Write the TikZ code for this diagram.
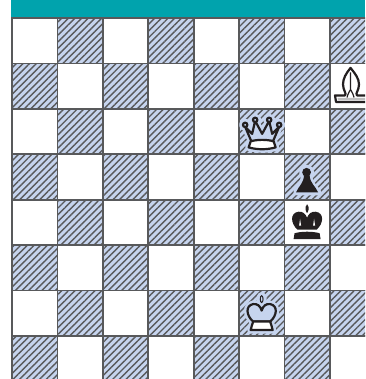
\documentclass[tikz,border=0pt]{standalone}
\usepackage{xcolor}
\usetikzlibrary{patterns.meta}
\definecolor{bandteal}{HTML}{00A3AD}
\definecolor{gridgray}{HTML}{58595B}
\definecolor{hatchblue}{HTML}{C6D4EE}
\definecolor{inkblack}{HTML}{231F20}
\def\queenpath{(12,32) -- (6,18) -- (13,25) -- (16,12) -- (23,25) -- (30,12) -- (33,25) -- (40,18) -- (34,32) -- cycle}
\def\queenbase{(11.5,32.5) .. controls (18,30.5) and (28,30.5) .. (34.5,32.5) -- (36.5,38.5) .. controls (28,41) and (18,41) .. (9.5,38.5) -- cycle}
\def\kingpath{(14,31) .. controls (7,25) and (6,15) .. (14,13.5) .. controls (18,13) and (21,15) .. (22.5,20) .. controls (24,15) and (27,13) .. (31,13.5) .. controls (39,15) and (38,25) .. (31,31) -- cycle}
\def\kingbase{(14,31) .. controls (13,34) and (12,37) .. (11.5,39.5) -- (33.5,39.5) .. controls (33,37) and (32,34) .. (31,31)}
\tikzset{
  lightsq/.style = {rectangle, draw=gridgray, line width=1.6pt, fill=white,
                    minimum size=45.4pt, inner sep=0pt, outer sep=0pt},
  darksq/.style  = {lightsq, fill=hatchblue,
                    postaction={pattern={Lines[angle=45,distance=4.7pt,line width=1.4pt]},
                                pattern color=gridgray}},
  halo/.style    = {draw=hatchblue, fill=hatchblue, line width=7pt, line join=round},
  outl/.style    = {draw=inkblack, line width=2.2pt, line join=round},
  inked/.style   = {fill=inkblack, draw=none},
  whitequeen/.pic = {
    \path[halo] \queenpath; \path[halo] \queenbase;
    \path[halo] (6,16) circle (2.5) (16,11) circle (2.5) (30,11) circle (2.5) (40,16) circle (2.5);
    \path[outl, fill=hatchblue] \queenpath;
    \path[outl, fill=white] \queenbase;
    \path[outl, fill=hatchblue] (6,16) circle (2.2) (16,11) circle (2.2) (30,11) circle (2.2) (40,16) circle (2.2);
  },
  whiteking/.pic = {
    \path[halo] \kingpath; \path[halo] \kingbase -- cycle;
    \path[halo] (22.5,8) ellipse (1.5 and 3);
    \path[outl, fill=hatchblue] \kingpath;
    \path[outl, fill=white] \kingbase -- cycle;
    \path[draw=inkblack, line width=1pt, fill=hatchblue] (22.5,8.5) ellipse (1.4 and 3.4);
  },
  blackking/.pic = {
    \path[inked] (13,30) .. controls (6,24) and (5,13) .. (14,12) .. controls (18,11.5) and (21,14) .. (22.5,18) .. controls (24,14) and (27,11.5) .. (31,12) .. controls (40,13) and (39,24) .. (32,30) -- cycle;
    \path[inked] (22.5,4.5) .. controls (24,6.5) and (24.5,8) .. (24,10) -- (23,13) -- (22,13) -- (21,10) .. controls (20.5,8) and (21,6.5) .. (22.5,4.5) -- cycle;
    \path[inked] (10,33.5) .. controls (17,31.5) and (28,31.5) .. (35,33.5) -- (36,39.5) -- (9,39.5) -- cycle;
    \path[fill=white] (15.5,19) -- (16.5,26) -- (14.5,26) -- cycle (29.5,19) -- (30.5,26) -- (28.5,26) -- cycle;
  },
  blackpawn/.pic = {
    \path[halo] (22,18) circle (4);
    \path[halo] (20,22) .. controls (19,29) and (15,33) .. (12,37.5) -- (33,37.5) .. controls (29,33) and (25,29) .. (24,22) -- cycle;
    \path[inked] (22,18) circle (4.4);
    \path[inked] (19.5,21) .. controls (19,29) and (14,32) .. (11.5,38) -- (33.5,38) .. controls (31,32) and (25.5,29) .. (25,21) -- cycle;
  },
  whitebishop/.pic = {
    \path[outl, fill=white] (5,32) -- (15,32) .. controls (17,30) and (13,27) .. (13,21) .. controls (13,15) and (16,10) .. (20.5,4.5) .. controls (25,10) and (29,15) .. (29,21) .. controls (29,27) and (25,30) .. (27,32) -- (38,32) -- (38,38.5) -- (6,38.5) -- cycle;
    \path[fill=black!25] (7.5,34.5) -- (36,34.5) -- (36,37) -- (8,37) -- cycle;
    \path[draw=inkblack, line width=1.2pt] (20.5,9) -- (20.5,26) (20.5,26) .. controls (19.5,28) and (18,30) .. (17,34) (20.5,26) .. controls (21.5,28) and (23,30) .. (24,34);
  },
}

\begin{document}
\begin{tikzpicture}[x=1pt, y=-1pt]
\useasboundingbox (0,0) rectangle (365,379);
\clip (0,0) rectangle (365,379);

% top band
\node[rectangle, fill=bandteal, draw=none, minimum width=354pt, minimum height=16.5pt,
      inner sep=0pt, anchor=north west] (band) at (11,0) {};

% board
\foreach \r in {0,...,7} {
  \foreach \c in {0,...,7} {
    \pgfmathtruncatemacro{\odd}{mod(\r+\c,2)}
    \ifnum\odd=0
      \node[lightsq] (sq-\r-\c) at ({34.7+45.43*\c},{40.7+45.43*\r}) {};
    \else
      \node[darksq] (sq-\r-\c) at ({34.7+45.43*\c},{40.7+45.43*\r}) {};
    \fi
  }
}

% pieces
\pic at (sq-1-7.north west) {whitebishop};
\pic at (sq-2-5.north west) {whitequeen};
\pic at (sq-3-6.north west) {blackpawn};
\pic at (sq-4-6.north west) {blackking};
\pic at (sq-6-5.north west) {whiteking};

\end{tikzpicture}
\end{document}
